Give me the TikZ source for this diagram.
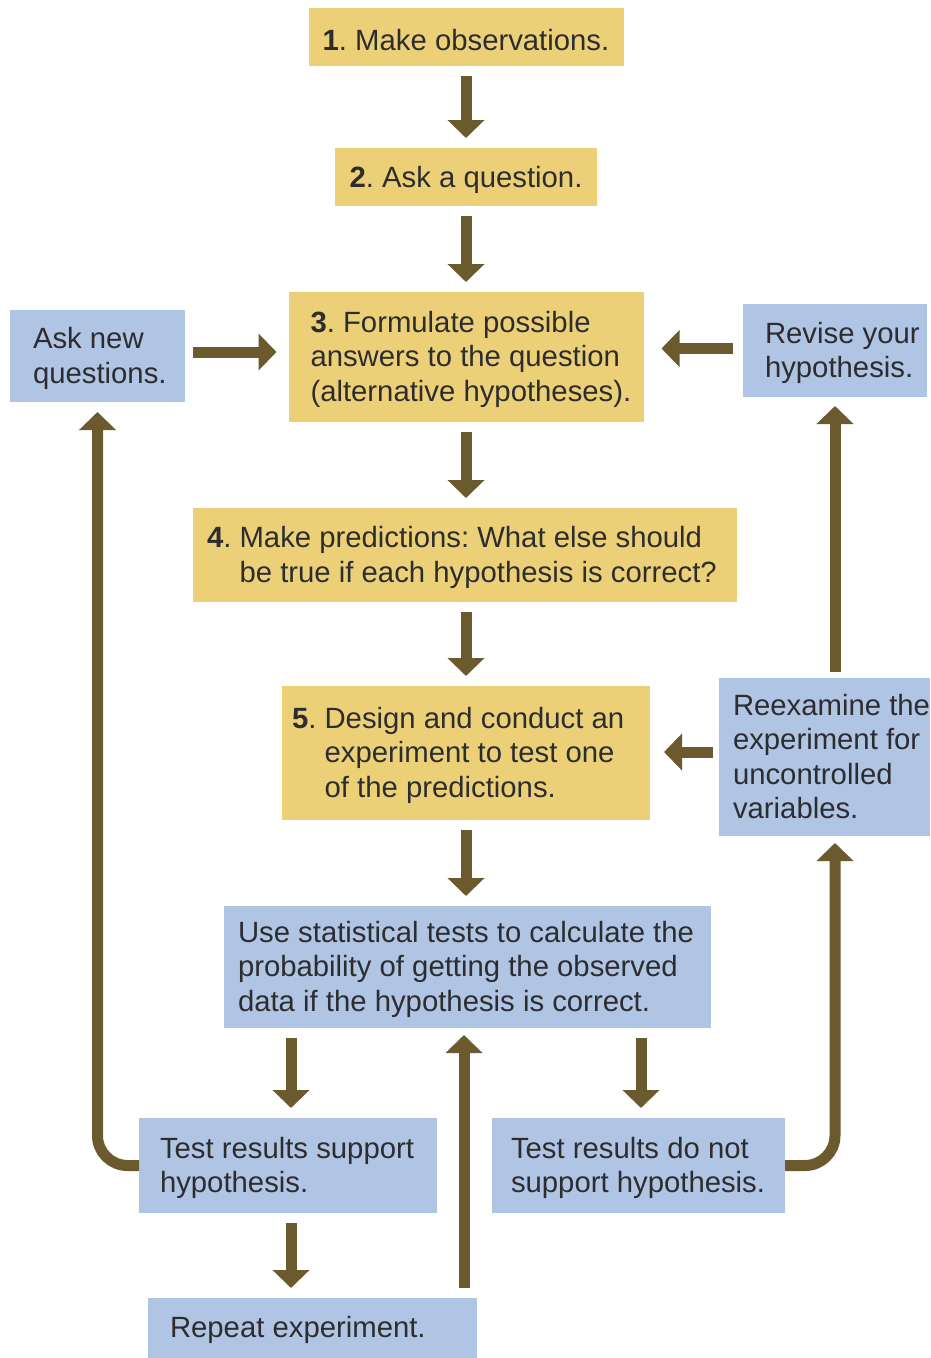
\documentclass[tikz,border=0pt]{standalone}
\usepackage{fontspec}
\setmainfont{Liberation Sans}
\usetikzlibrary{arrows.meta}
\frenchspacing
\definecolor{stepyellow}{RGB}{236,208,120}
\definecolor{sideblue}{RGB}{176,196,228}
\definecolor{flowbrown}{RGB}{107,90,46}
\definecolor{inkgray}{RGB}{45,45,48}
% text lowered slightly inside its box, keeping the box size
\newcommand\lowtext[1]{\raisebox{-3pt}[\height][\depth]{#1}}
% left-aligned multi-line text in a box of given width, with a left inset
\newcommand\lbtext[3]{\makebox[#1pt][l]{\hspace*{#2pt}\lowtext{\begin{tabular}{@{}l@{}}#3\end{tabular}}}}
\newcommand\stepno[1]{\textbf{#1}.\ }
\newcommand\hang[1]{\hphantom{\textbf{#1}.\ }}

\begin{document}
\begin{tikzpicture}[x=1pt,y=-1pt,
  every node/.style={inner sep=0pt, outer sep=0pt, text=inkgray,
    font=\fontsize{29.3}{34.5}\selectfont},
  ybox/.style={fill=stepyellow},
  bbox/.style={fill=sideblue},
  flow/.style={draw=flowbrown, line width=11pt,
    -{Triangle[width=36pt,length=18pt]}, shorten <=10pt, shorten >=10pt}]

\useasboundingbox[fill=white] (0,0) rectangle (930,1358);

% main steps
\node[ybox, minimum width=315pt, minimum height=58pt] (s1) at (466,37)
  {\lowtext{\stepno{1}Make observations.}};
\node[ybox, minimum width=262pt, minimum height=58pt] (s2) at (466,177)
  {\lowtext{\stepno{2}Ask a question.}};
\node[ybox, minimum width=355pt, minimum height=130pt] (s3) at (466,357)
  {\lbtext{355}{22}{\stepno{3}Formulate possible\\answers to the question\\(alternative hypotheses).}};
\node[ybox, minimum width=544pt, minimum height=94pt] (s4) at (465,555)
  {\lbtext{544}{14}{\stepno{4}Make predictions: What else should\\\hang{4}be true if each hypothesis is correct?}};
\node[ybox, minimum width=368pt, minimum height=134pt] (s5) at (466,753)
  {\lbtext{368}{10}{\stepno{5}Design and conduct an\\\hang{5}experiment to test one\\\hang{5}of the predictions.}};

% side boxes
\node[bbox, minimum width=175pt, minimum height=92pt] (ask) at (97.5,356)
  {\lbtext{175}{23}{Ask new\\questions.}};
\node[bbox, minimum width=184pt, minimum height=93pt] (revise) at (835,350.5)
  {\lbtext{184}{22}{Revise your\\hypothesis.}};
\node[bbox, minimum width=211pt, minimum height=158pt] (reex) at (824.5,757)
  {\lbtext{211}{14}{Reexamine the\\experiment for\\uncontrolled\\variables.}};
\node[bbox, minimum width=487pt, minimum height=122pt] (stat) at (467.5,967)
  {\lbtext{487}{14}{Use statistical tests to calculate the\\probability of getting the observed\\data if the hypothesis is correct.}};
\node[bbox, minimum width=298pt, minimum height=95pt] (yes) at (288,1165.5)
  {\lbtext{298}{21}{Test results support\\hypothesis.}};
\node[bbox, minimum width=293pt, minimum height=95pt] (no) at (638.5,1165.5)
  {\lbtext{293}{19}{Test results do not\\support hypothesis.}};
\node[bbox, minimum width=329pt, minimum height=60pt] (rep) at (312.5,1328)
  {\lbtext{329}{22}{Repeat experiment.}};

% main chain
\draw[flow] (s1.south) -- (s2.north);
\draw[flow] (s2.south) -- (s3.north);
\draw[flow] (s3.south) -- (s4.north -| s3.south);
\draw[flow] (s4.south -| s3.south) -- (s5.north);
\draw[flow] (s5.south) -- (stat.north -| s5.south);

% feedback into step 3
\draw[flow, shorten <=8pt, shorten >=12pt] ([yshift=4pt]ask.east) -- ([yshift=4pt]ask.east -| s3.west);
\draw[flow, shorten >=18pt] ([yshift=2pt]revise.west) -- ([yshift=2pt]revise.west -| s3.east);
\draw[flow, shorten <=6pt, shorten >=14pt] ([yshift=5pt]reex.west) -- ([yshift=5pt]reex.west -| s5.east);

% outcomes of the statistical test
\draw[flow] ([xshift=3pt]stat.south -| yes.north) -- ([xshift=3pt]yes.north);
\draw[flow] ([xshift=2.5pt]stat.south -| no.north) -- ([xshift=2.5pt]no.north);
\draw[flow] ([xshift=3pt]yes.south) -- ([xshift=3pt]yes.south |- rep.north);
\draw[flow, shorten >=7pt] ([xshift=-3.5pt]rep.north -| stat.south) -- ([xshift=-3.5pt]stat.south);

% loops back
\draw[flow, shorten <=0pt, rounded corners=30pt] (yes.west) -| (ask.south);
\draw[flow, shorten <=0pt, shorten >=7pt, rounded corners=30pt] (no.east) -| (revise.south |- reex.south);
\draw[flow, shorten <=6pt, shorten >=9pt] (revise.south |- reex.north) -- (revise.south);

\end{tikzpicture}
\end{document}
